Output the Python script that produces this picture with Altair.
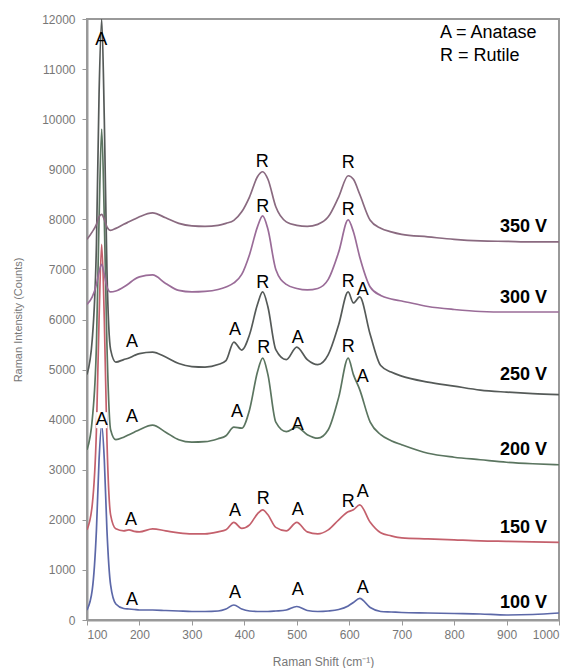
import altair as alt
import pandas as pd

# Raman shift grid (cm-1)
shift = [100, 110, 118, 123, 128, 133, 138, 145, 155, 170,
         180, 190, 200, 225, 250, 275, 300, 325, 350, 365,
         380, 395, 410, 425, 435, 445, 460, 480, 500, 520,
         540, 560, 580, 598, 608, 620, 640, 660, 680, 700,
         750, 800, 850, 900, 950, 1000]

v350 = [7600, 7750, 7900, 8050, 8100, 8000, 7850, 7780, 7820, 7900,
        7950, 8000, 8050, 8130, 8030, 7920, 7870, 7860, 7880, 7920,
        7980, 8150, 8450, 8850, 8950, 8800, 8250, 7950, 7880, 7860,
        7900, 8050, 8450, 8870, 8800, 8500, 7980, 7820, 7750, 7700,
        7650, 7600, 7570, 7560, 7550, 7550]
v300 = [6300, 6450, 6700, 6950, 7100, 6900, 6650, 6550, 6570, 6650,
        6720, 6800, 6850, 6890, 6720, 6580, 6550, 6560, 6600, 6650,
        6730, 6900, 7300, 7850, 8070, 7800, 7000, 6700, 6620, 6590,
        6620, 6800, 7350, 7990, 7750, 7250, 6650, 6480, 6410, 6370,
        6260, 6200, 6160, 6150, 6150, 6150]
v250 = [4900, 5600, 7500, 10500, 12000, 10000, 7000, 5400, 5150, 5200,
        5230, 5280, 5320, 5350, 5250, 5120, 5060, 5050, 5100, 5180,
        5550, 5390, 5700, 6300, 6550, 6250, 5400, 5200, 5450, 5200,
        5100, 5300, 5900, 6550, 6330, 6450, 5700, 5080, 4950, 4870,
        4750, 4670, 4590, 4550, 4520, 4500]
v200 = [3400, 4000, 5500, 8000, 9800, 8000, 5500, 3800, 3600, 3650,
        3700, 3750, 3800, 3890, 3750, 3600, 3550, 3560, 3620, 3680,
        3850, 3830, 4200, 4950, 5230, 4900, 3950, 3760, 3850, 3700,
        3630, 3800, 4450, 5230, 4900, 4600, 3950, 3700, 3580, 3500,
        3330, 3250, 3200, 3150, 3120, 3100]
v150 = [1800, 2300, 3800, 6000, 7500, 6000, 3600, 2100, 1820, 1780,
        1800, 1770, 1760, 1820, 1780, 1740, 1720, 1720, 1760, 1800,
        1950, 1830, 1900, 2120, 2200, 2100, 1850, 1780, 1950, 1760,
        1720, 1800, 2000, 2160, 2200, 2300, 1950, 1740, 1680, 1640,
        1620, 1600, 1580, 1570, 1560, 1550]
v100 = [200, 600, 1800, 3200, 3900, 3200, 1800, 700, 320, 230,
        220, 210, 200, 200, 190, 180, 170, 170, 180, 220,
        300, 220, 180, 170, 170, 170, 180, 200, 270, 190,
        170, 180, 210, 280, 350, 430, 250, 170, 160, 150,
        140, 130, 120, 100, 110, 140]

series_names = ["100 V", "150 V", "200 V", "250 V", "300 V", "350 V"]
series_values = [v100, v150, v200, v250, v300, v350]
series_colors = ["#5c68a8", "#c4606c", "#5b7560", "#555a58", "#9a6c98", "#8a6a80"]

# peak labels: text, shift, counts
peak_text = ["A",
             "R", "R",
             "R", "R",
             "A", "A", "R", "A", "R", "A",
             "A", "A", "A", "R", "A", "R", "A",
             "A", "A", "R", "A", "R", "A",
             "A", "A", "A", "A"]
peak_x = [127,
          434, 598,
          435, 598,
          186, 382, 435, 502, 598, 626,
          128, 186, 386, 437, 502, 598, 626,
          184, 382, 436, 502, 598, 626,
          186, 382, 502, 626]
peak_y = [11580,
          9150, 9130,
          8240, 8190,
          5550, 5790, 6730, 5630, 6750, 6590,
          3990, 4050, 4150, 5430, 3890, 5450, 4850,
          2000, 2180, 2420, 2200, 2360, 2560,
          400, 540, 600, 640]
peak_boxed = [False,
              False, False,
              False, False,
              False, False, False, False, False, False,
              True, False, False, False, False, False, False,
              False, False, False, False, False, False,
              False, False, False, False]

volt_y = [340, 1837, 3395, 4892, 6430, 7847]
volt_x = 977

legend_text = ["A = Anatase", "R = Rutile"]
legend_x = 773
legend_y = [11720, 11260]

rows = []
for name, vals in zip(series_names, series_values):
    for s, c in zip(shift, vals):
        rows.append({"shift": s, "counts": c, "series": name})
df = pd.DataFrame(rows)

peaks = pd.DataFrame({"text": peak_text, "x": peak_x, "y": peak_y, "boxed": peak_boxed})
volts = pd.DataFrame({"text": series_names, "x": [volt_x] * 6, "y": volt_y})
leg = pd.DataFrame({"text": legend_text, "x": [legend_x] * 2, "y": legend_y})

xscale = alt.Scale(domain=[100, 1000], nice=False, zero=False)
yscale = alt.Scale(domain=[0, 12000], nice=False)

xaxis = alt.Axis(values=list(range(100, 1001, 100)), format="d", title="Raman Shift (cm\u207b\u00b9)",
                 grid=False, labelFontSize=12, labelColor="#777", labelFont="Liberation Sans",
                 tickColor="#999", domainColor="#999", domainWidth=2, tickSize=5,
                 labelPadding=4, titleFontSize=12, titleFontWeight="normal",
                 titleColor="#777", titleFont="Liberation Sans", titleY=41, titleBaseline="middle")
yaxis = alt.Axis(values=list(range(0, 12001, 1000)), format="d", title="Raman Intensity (Counts)",
                 grid=False, labelFontSize=12, labelColor="#777", labelFont="Liberation Sans",
                 tickColor="#999", domainColor="#999", domainWidth=2, tickSize=5,
                 labelPadding=7, titleFontSize=11, titleFontWeight="normal",
                 titleColor="#777", titleFont="Liberation Sans", titleX=-69,
                 titleBaseline="middle", titleAlign="center", titleAngle=-90)

lines = alt.Chart(df).mark_line(strokeWidth=1.7, interpolate="monotone", clip=True).encode(
    x=alt.X("shift:Q", scale=xscale, axis=xaxis),
    y=alt.Y("counts:Q", scale=yscale, axis=yaxis),
    color=alt.Color("series:N", scale=alt.Scale(domain=series_names, range=series_colors), legend=None),
)

boxes = alt.Chart(peaks).transform_filter("datum.boxed").mark_point(
    shape="M-0.7,-1L0.7,-1L0.7,1L-0.7,1Z", size=256, filled=True, fill="white", opacity=1, strokeWidth=0
).encode(x=alt.X("x:Q", scale=xscale), y=alt.Y("y:Q", scale=yscale))

peak_labels = alt.Chart(peaks).mark_text(
    fontSize=18, font="Liberation Sans", color="black", align="center", baseline="middle"
).encode(x=alt.X("x:Q", scale=xscale), y=alt.Y("y:Q", scale=yscale), text="text:N")

volt_labels = alt.Chart(volts).mark_text(
    fontSize=18, font="Liberation Sans", fontWeight="bold", color="black", align="right", baseline="middle"
).encode(x=alt.X("x:Q", scale=xscale), y=alt.Y("y:Q", scale=yscale), text="text:N")

legend_labels = alt.Chart(leg).mark_text(
    fontSize=18, font="Liberation Sans", color="black", align="left", baseline="middle"
).encode(x=alt.X("x:Q", scale=xscale), y=alt.Y("y:Q", scale=yscale), text="text:N")

chart = alt.layer(lines, boxes, peak_labels, volt_labels, legend_labels).properties(
    width=472, height=601,
    autosize=alt.AutoSizeParams(type="none"),
    padding={"left": 87, "top": 19, "right": 17, "bottom": 48},
    background="white",
).configure_view(stroke="#999", strokeWidth=2)

chart.save("out.html", embed_options={"renderer": "svg", "actions": False})
